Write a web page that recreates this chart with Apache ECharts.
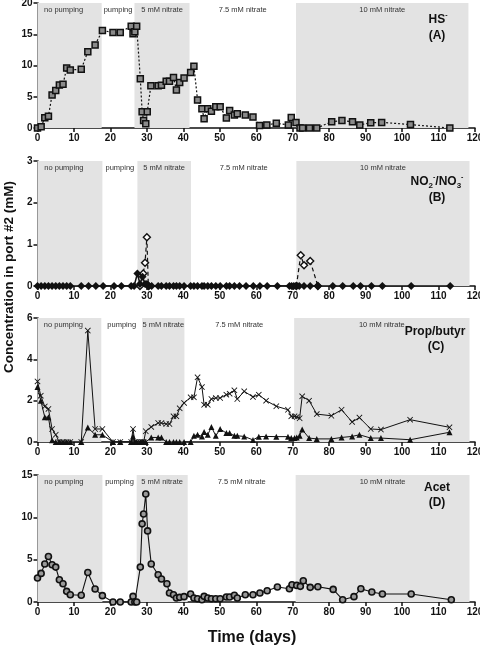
<!DOCTYPE html>
<html><head><meta charset="utf-8">
<script src="https://cdn.jsdelivr.net/npm/echarts@6/dist/echarts.min.js"></script>
<style>html,body{margin:0;padding:0;background:#fff}#c{width:480px;height:646px}</style>
</head><body><div id="c"></div>
<script>
// ---------- DATA ----------
const xTicks = [0,10,20,30,40,50,60,70,80,90,100,110,120];
const phaseLabels = ['no pumping','pumping','5 mM nitrate','7.5 mM nitrate','10 mM nitrate'];
// phase boundaries (days) per panel
const phasesA = [0,17.6,26.6,41.7,70.9,118.2];
const phasesB = [0,17.8,27.4,42.1,71.0,118.5];
const phasesC = [0,17.5,28.7,40.3,70.4,118.5];
const phasesD = [0,17.8,27.2,41.2,70.8,118.5];

// Panel A: HS-
const hsDays = [0,1,2,3,4,5,6,7,8,9,12,13.8,15.8,17.8,20.7,22.7,25.7,26.2,26.7,27.2,28.2,28.7,29.1,29.7,30.1,31.1,33.1,34.0,35.3,36.2,37.3,38.1,39.0,40.2,42.0,42.9,43.9,45.1,45.7,46.7,47.7,48.9,50.1,51.8,52.7,54.0,54.8,57.0,59.1,60.9,62.9,65.5,68.8,69.6,70.9,72.0,72.7,74.6,76.6,80.7,83.5,86.4,88.4,91.4,94.4,102.3,113.1];
const hsVals = [0,0.2,1.65,1.9,5.3,6.0,6.9,7.0,9.6,9.3,9.4,12.2,13.3,15.6,15.3,15.3,16.3,15.1,15.4,16.3,7.9,2.6,1.2,0.7,2.6,6.75,6.75,6.85,7.5,7.5,8.1,6.1,7.3,8.0,8.9,9.9,4.5,3.1,1.5,3.1,2.7,3.4,3.4,1.6,2.8,2.1,2.3,2.1,1.75,0.4,0.5,0.75,0.5,1.7,0.9,0,0,0,0,1.0,1.2,1.0,0.5,0.85,0.9,0.55,0];

// Panel B: NO2- (filled) / NO3- (open)
const no2Days = [0,1,2,3,4,5,6,7,8,9,12,14,16,18,21,23,25.7,26.5,27.4,28.1,28.8,29.5,30.0,30.6,31.3,33.1,34.0,35.3,36.2,37.3,38.1,39.0,40.2,42.0,42.9,43.9,45.1,45.7,46.7,47.7,48.9,50.1,51.8,52.7,54.0,55.4,57.2,59.2,61.0,63.0,65.8,69.1,69.7,70.3,71.0,71.8,73.1,74.8,76.9,81.0,83.7,86.6,88.6,91.6,94.6,102.5,113.2];
const no2Vals = [0,0,0,0,0,0,0,0,0,0,0,0,0,0,0,0,0,0,0.3,0.05,0.22,0.05,0.05,0,0,0,0,0,0,0,0,0,0,0,0,0,0,0,0,0,0,0,0,0,0,0,0,0,0,0,0,0,0,0,0,0,0,0,0,0,0,0,0,0,0,0,0];
const no3Days1 = [28.1,29.0,29.5,30.0,30.4];
const no3Vals1 = [0,0.3,0.56,1.17,0];
const no3Days2 = [71.0,72.2,73.1,74.8,76.9];
const no3Vals2 = [0,0.74,0.5,0.6,0];

// Panel C: Prop (crosses) / butyr (triangles)
const pbDays = [0,0.9,2,3,4,5,6,7,8,9,12,13.8,15.8,17.8,20.7,22.7,25.7,26.2,26.7,27.2,28.2,28.7,29.1,29.7,31.2,33.1,34.0,35.3,36.2,37.3,38.1,39.0,40.2,42.0,42.9,43.9,45.1,45.7,46.7,47.7,48.9,50.1,51.8,52.7,54.0,54.8,56.7,59.1,60.7,62.7,65.5,68.7,69.6,70.5,71.1,71.9,72.6,74.5,76.6,80.6,83.4,86.3,88.3,91.4,94.2,102.2,113];
const propVals = [2.93,2.24,1.72,1.6,0.63,0.35,0,0,0,0,0,5.39,0.63,0.63,0,0,0,0.63,0,0,0,0,0,0.52,0.73,0.92,0.92,0.87,0.87,1.24,1.24,1.63,1.89,2.16,2.16,3.13,2.66,1.8,1.8,2.08,2.13,2.13,2.29,2.34,2.5,2.08,2.45,2.18,2.29,2.0,1.73,1.56,1.24,1.24,1.21,1.15,2.21,2.0,1.35,1.27,1.56,0.97,1.18,0.63,0.6,1.08,0.71];
const butyrVals = [2.66,2.0,1.2,1.2,0.08,0,0,0,0,0,0,0.7,0.35,0.35,0,0,0,0.27,0,0,0,0,0,0,0.22,0.22,0.22,0,0,0,0,0,0,0,0.3,0.35,0.27,0.48,0.35,0.73,0.3,0.63,0.43,0.43,0.3,0.3,0.27,0.1,0.26,0.27,0.26,0.26,0.19,0.19,0.22,0.3,0.6,0.19,0.15,0.15,0.22,0.27,0.35,0.19,0.19,0.11,0.47];

// Panel D: Acet
const acDays = [0,1,2,3,4,5,6,7,8,9,12,13.8,15.8,17.8,20.7,22.7,25.7,26.2,26.7,27.2,28.2,28.7,29.1,29.7,30.2,31.2,33.1,34.0,35.5,36.2,37.3,38.1,39.0,40.2,42.0,42.9,43.9,45.1,45.7,46.7,47.7,48.9,50.1,51.8,52.7,54.0,54.8,57,59.1,61,63,65.8,69.1,69.8,71.1,72.1,72.9,74.8,76.9,81.1,83.7,86.8,88.7,91.7,94.6,102.5,113.5];
const acVals = [2.83,3.38,4.48,5.38,4.4,4.12,2.63,2.16,1.26,0.86,0.79,3.49,1.53,0.75,0,0,0,0.67,0,0,4.12,9.23,10.4,12.76,8.4,4.48,3.22,2.71,2.16,1.06,0.86,0.47,0.55,0.63,0.94,0.47,0.39,0.27,0.67,0.47,0.39,0.39,0.39,0.59,0.59,0.79,0.47,0.86,0.86,1.06,1.33,1.77,1.57,2.04,1.96,1.85,2.51,1.73,1.81,1.49,0.27,0.63,1.57,1.18,0.94,0.94,0.27];

const yMax = [20,3,6,15];
const yInterval = [5,1,2,5];

// ---------- CHART ----------
const FONT = '"Liberation Sans", Arial, Helvetica, sans-serif';
const zip = (xs, ys) => xs.map((x,i) => [x, ys[i]]);
const chart = echarts.init(document.getElementById('c'));

const gridBase = {left:37.5, right:5, containLabel:false, outerBoundsMode:'none'};
const gridPos = [
  Object.assign({top:3, height:125}, gridBase),
  Object.assign({top:161, height:125}, gridBase),
  Object.assign({top:318, height:124}, gridBase),
  Object.assign({top:475, height:127}, gridBase)
];
const axisLine = {show:true, onZero:false, lineStyle:{color:'#111', width:1.5}};
const axisTick = {show:true, inside:false, length:4, lineStyle:{color:'#111', width:1.5}};
const lblStyle = {color:'#111', fontSize:10, fontWeight:'bold', fontFamily:FONT};

const xAxes = gridPos.map((g,i) => ({
  type:'value', gridIndex:i, min:0, max:120, interval:10,
  axisLine, axisTick, splitLine:{show:false},
  axisLabel:Object.assign({margin:5}, lblStyle)
}));
const yAxes = gridPos.map((g,i) => ({
  type:'value', gridIndex:i, min:0, max:yMax[i], interval:yInterval[i],
  axisLine, axisTick, splitLine:{show:false},
  axisLabel:Object.assign({margin:5}, lblStyle)
}));

function markAreaFor(ph) {
  const data = [];
  for (let k = 0; k < 5; k++) {
    const gray = (k % 2 === 0);
    data.push([{
      xAxis: ph[k], name: phaseLabels[k],
      itemStyle:{color: gray ? '#e3e3e3' : 'rgba(0,0,0,0)'},
      label:{offset: k === 0 ? [-6,0] : [0,0]}
    }, {xAxis: ph[k+1]}]);
  }
  return {
    silent:true,
    label:{show:true, position:'insideTop', distance:3, fontSize:7.5, color:'#333', fontFamily:FONT},
    data
  };
}

const XPATH = 'path://M1,0L5,4L9,0L10,1L6,5L10,9L9,10L5,6L1,10L0,9L4,5L0,1Z';

const series = [
  {type:'line', xAxisIndex:0, yAxisIndex:0, data:zip(hsDays,hsVals),
   symbol:'rect', symbolSize:6, itemStyle:{color:'#8a8a8a', borderColor:'#111', borderWidth:1.5},
   lineStyle:{color:'#111', width:1.2, type:[2,2]}, markArea:markAreaFor(phasesA), animation:false},

  {type:'line', xAxisIndex:1, yAxisIndex:1, data:zip(no3Days1,no3Vals1),
   symbol:'diamond', symbolSize:7, itemStyle:{color:'#fff', borderColor:'#111', borderWidth:1.4},
   lineStyle:{color:'#111', width:1.2, type:[4,3]}, markArea:markAreaFor(phasesB), animation:false},
  {type:'line', xAxisIndex:1, yAxisIndex:1, data:zip(no3Days2,no3Vals2),
   symbol:'diamond', symbolSize:7, itemStyle:{color:'#fff', borderColor:'#111', borderWidth:1.4},
   lineStyle:{color:'#111', width:1.2, type:[4,3]}, animation:false},
  {type:'line', xAxisIndex:1, yAxisIndex:1, data:zip(no2Days,no2Vals), z:3,
   symbol:'diamond', symbolSize:8, itemStyle:{color:'#111'},
   lineStyle:{color:'#111', width:1.5}, animation:false},

  {type:'line', xAxisIndex:2, yAxisIndex:2, data:zip(pbDays,propVals),
   symbol:XPATH, symbolSize:6, itemStyle:{color:'#111'},
   lineStyle:{color:'#111', width:1}, markArea:markAreaFor(phasesC), animation:false},
  {type:'line', xAxisIndex:2, yAxisIndex:2, data:zip(pbDays,butyrVals),
   symbol:'triangle', symbolSize:6, itemStyle:{color:'#111'},
   lineStyle:{color:'#111', width:1}, animation:false},

  {type:'line', xAxisIndex:3, yAxisIndex:3, data:zip(acDays,acVals),
   symbol:'circle', symbolSize:6, itemStyle:{color:'#999', borderColor:'#111', borderWidth:1.6},
   lineStyle:{color:'#111', width:1.1}, animation:false, markArea:markAreaFor(phasesD)}
];

const TS = 12;
function txt(x, y, text) {
  return {type:'text', x, y, z:100,
    style:{text, fill:'#111', font:'bold ' + TS + 'px ' + FONT, align:'center', verticalAlign:'middle'}};
}
const richB = {fontSize:TS, fontWeight:'bold', fontFamily:FONT, fill:'#111', color:'#111', lineHeight:16};
const richSup = {fontSize:7, fontWeight:'bold', fontFamily:FONT, fill:'#111', color:'#111', verticalAlign:'top', lineHeight:16};
const richSub = {fontSize:8, fontWeight:'bold', fontFamily:FONT, fill:'#111', color:'#111', verticalAlign:'bottom', lineHeight:16};

const graphic = [
  {type:'text', x:438, y:20, z:100, style:{text:'{b|HS}{s|-}', align:'center', verticalAlign:'middle',
    rich:{b:richB, s:richSup}}},
  txt(437, 36, '(A)'),
  {type:'text', x:437, y:182, z:100, style:{text:'{b|NO}{d|2}{s|-}{b|/NO}{d|3}{s|-}', align:'center', verticalAlign:'middle',
    rich:{b:richB, d:richSub, s:richSup}}},
  txt(437, 198, '(B)'),
  txt(435, 332, 'Prop/butyr'),
  txt(436, 347, '(C)'),
  txt(437, 488, 'Acet'),
  txt(437, 503, '(D)'),
  {type:'text', x:9, y:277, z:100, rotation:Math.PI/2,
   style:{text:'Concentration in port #2 (mM)', fill:'#111', font:'bold 13.5px ' + FONT, align:'center', verticalAlign:'middle'}},
  {type:'text', x:252, y:638, z:100,
   style:{text:'Time (days)', fill:'#111', font:'bold 16px ' + FONT, align:'center', verticalAlign:'middle'}}
];

chart.setOption({
  backgroundColor:'#fff',
  animation:false,
  grid:gridPos,
  xAxis:xAxes,
  yAxis:yAxes,
  series,
  graphic
});
</script>
</body></html>
